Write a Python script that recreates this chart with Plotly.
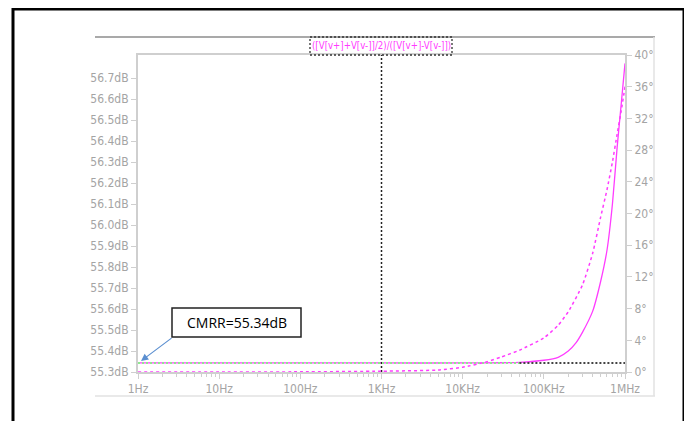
import plotly.graph_objects as go

# ---------------- data ----------------
freq_hz = [1, 10, 100, 1000, 10000, 30000, 50000, 100000, 150000, 200000,
           250000, 300000, 400000, 500000, 600000, 700000, 800000, 900000, 1000000]
mag_db = [55.343, 55.343, 55.343, 55.343, 55.343, 55.344, 55.346, 55.356, 55.37, 55.40,
          55.44, 55.49, 55.59, 55.73, 55.88, 56.10, 56.37, 56.58, 56.77]

phase_freq_hz = [1, 10, 100, 1000, 5000, 10000, 20000, 30000, 50000, 100000, 150000,
                 200000, 300000, 400000, 500000, 600000, 700000, 800000, 900000, 1000000]
phase_deg = [0.0, 0.0, 0.02, 0.1, 0.25, 0.6, 1.3, 1.9, 2.75, 4.3, 5.9,
             7.6, 11.0, 15.0, 19.5, 23.0, 26.5, 30.0, 33.0, 36.0]

cursor_freq_hz = 1000
cursor_db = 55.343
cursor_overlap_end_hz = 50000

x_tick_vals = [1, 10, 100, 1000, 10000, 100000, 1000000]
x_tick_text = ["1Hz", "10Hz", "100Hz", "1KHz", "10KHz", "100KHz", "1MHz"]
x_minor_vals = [k * 10 ** d for d in range(6) for k in range(2, 10)]

db_tick_vals = [round(55.3 + 0.1 * i, 1) for i in range(15)]
db_tick_text = [f"{v:.1f}dB" for v in db_tick_vals]
deg_tick_vals = list(range(0, 41, 4))
deg_tick_text = [f"{v}°" for v in deg_tick_vals]

title_text = "([V[v+]+V[v-]]/2)/([V[v+]-V[v-]])"
note_text = "CMRR=55.34dB"

# ---------------- layout helpers ----------------
OFF = 8  # page body margin
W, H = 692 - OFF, 421 - OFF
L, R, T, B = 138 - OFF, 625 - OFF, 55 - OFF, 372 - OFF
def px(x):
    return (x - OFF - L) / (R - L)
def py(y):
    return (B - (y - OFF)) / (B - T)

MAG = "#ff3cff"
AXC = "#cfcfcf"
LBL = "#a4a4a4"
NARROW = "DejaVu Sans Condensed, Liberation Sans Narrow, sans-serif"

fig = go.Figure()
fig.add_trace(go.Scatter(x=freq_hz, y=mag_db, mode="lines",
                         line=dict(color=MAG, width=1.3, shape="spline", smoothing=0.5),
                         yaxis="y", hoverinfo="skip"))
fig.add_trace(go.Scatter(x=phase_freq_hz, y=phase_deg, mode="lines",
                         line=dict(color=MAG, width=1.5, dash="3px,3px", shape="spline", smoothing=0.5),
                         yaxis="y2", hoverinfo="skip"))
# cursor lines
fig.add_trace(go.Scatter(x=[cursor_freq_hz, cursor_freq_hz], y=[55.3, 56.81], mode="lines",
                         line=dict(color="#222222", width=1.5, dash="2px,2px"), yaxis="y", hoverinfo="skip"))
fig.add_trace(go.Scatter(x=[1, cursor_overlap_end_hz], y=[cursor_db, cursor_db], mode="lines",
                         line=dict(color="#8fe88f", width=2, dash="2px,2px"), yaxis="y", hoverinfo="skip"))
fig.add_trace(go.Scatter(x=[cursor_overlap_end_hz, 1000000], y=[cursor_db, cursor_db], mode="lines",
                         line=dict(color="#444444", width=2, dash="2px,2px"), yaxis="y", hoverinfo="skip"))

tickfont = dict(family=NARROW, size=12, color=LBL)

fig.update_layout(
    width=W, height=H,
    margin=dict(l=L, r=W - R, t=T, b=H - B, pad=0),
    paper_bgcolor="white", plot_bgcolor="white",
    showlegend=False,
    xaxis=dict(type="log", range=[0, 6], showgrid=False, zeroline=False,
               showline=True, linecolor=AXC, linewidth=2, mirror=True,
               ticks="outside", ticklen=5, tickwidth=1, tickcolor=AXC,
               tickmode="array", tickvals=x_tick_vals, ticktext=x_tick_text,
               tickfont=tickfont,
               minor=dict(tickmode="array", tickvals=x_minor_vals, ticks="outside",
                          ticklen=3, tickcolor=AXC, showgrid=False)),
    yaxis=dict(range=[55.3, 56.81], showgrid=False, zeroline=False,
               showline=True, linecolor=AXC, linewidth=2,
               ticks="outside", ticklen=5, tickwidth=1, tickcolor=AXC,
               tickmode="array", tickvals=db_tick_vals, ticktext=db_tick_text,
               tickfont=tickfont),
    yaxis2=dict(range=[0, 40], overlaying="y", side="right", showgrid=False, zeroline=False,
                showline=True, linecolor=AXC, linewidth=2,
                ticks="outside", ticklen=5, tickwidth=1, tickcolor=AXC,
                tickmode="array", tickvals=deg_tick_vals, ticktext=deg_tick_text,
                tickfont=tickfont),
)

shapes = [
    # outer black frame
    dict(type="rect", xref="paper", yref="paper", x0=px(13), x1=px(684), y0=py(440), y1=py(9),
         line=dict(color="black", width=3), fillcolor="rgba(0,0,0,0)", layer="above"),
    # window lines
    dict(type="line", xref="paper", yref="paper", x0=px(95), x1=px(655), y0=py(37), y1=py(37),
         line=dict(color="#8c8c8c", width=1.5)),
    dict(type="line", xref="paper", yref="paper", x0=px(95), x1=px(655), y0=py(396), y1=py(396),
         line=dict(color="#e2e2e2", width=1.5)),
    dict(type="line", xref="paper", yref="paper", x0=px(654), x1=px(654), y0=py(37), y1=py(396),
         line=dict(color="#e2e2e2", width=1.5)),
    # title dotted box
    dict(type="rect", xref="paper", yref="paper", x0=px(310), x1=px(452), y0=py(55), y1=py(37),
         line=dict(color="#333333", width=1.3, dash="2px,2px"), fillcolor="rgba(0,0,0,0)"),
    # note box
    dict(type="rect", xref="paper", yref="paper", x0=px(172), x1=px(301), y0=py(337), y1=py(308),
         line=dict(color="#222222", width=1.5), fillcolor="white", layer="above"),
]
fig.update_layout(shapes=shapes)

fig.add_annotation(xref="paper", yref="paper", x=px(381), y=py(46), text=title_text,
                   showarrow=False, font=dict(family=NARROW, size=9.6, color=MAG),
                   xanchor="center", yanchor="middle")
fig.add_annotation(xref="paper", yref="paper", x=px(236.5), y=py(322.5), text=note_text,
                   showarrow=False, font=dict(family="Open Sans, Liberation Sans, sans-serif", size=14, color="black"),
                   xanchor="center", yanchor="middle")
fig.add_annotation(xref="paper", yref="paper", x=px(141), y=py(361), ax=173 - 141, ay=337 - 361,
                   text="", showarrow=True, arrowhead=2, arrowsize=1.2, arrowwidth=1.2,
                   arrowcolor="#5b8fd0")

fig.write_html("out.html")
